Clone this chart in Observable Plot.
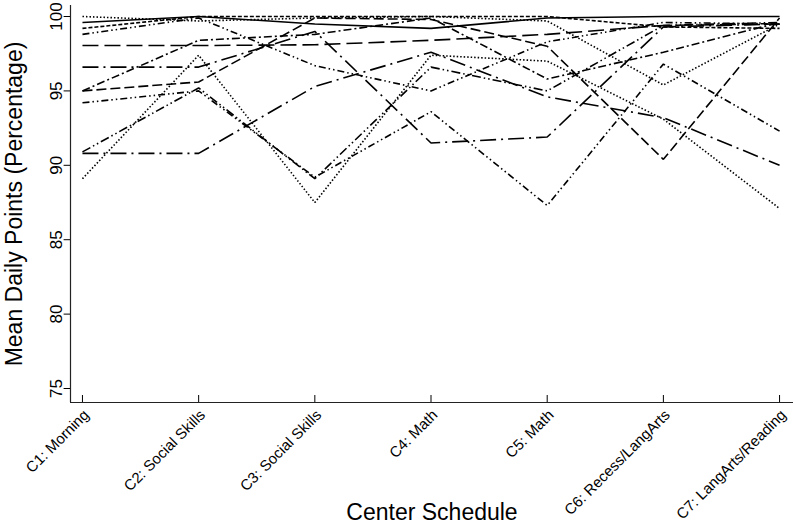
<!DOCTYPE html>
<html>
<head>
<meta charset="utf-8">
<script src="https://cdn.jsdelivr.net/npm/d3@7"></script>
<script src="https://cdn.jsdelivr.net/npm/@observablehq/plot@0.6"></script>
<style>
  html, body { margin: 0; padding: 0; background: #fff; }
  #chart svg { display: block; }
</style>
</head>
<body>
<div id="chart"></div>
<script>
// ---- Data ----
const categories = ["C1: Morning", "C2: Social Skills", "C3: Social Skills", "C4: Math", "C5: Math", "C6: Recess/LangArts", "C7: LangArts/Reading"];
const yTicks = [75, 80, 85, 90, 95, 100];
const xTitle = "Center Schedule";
const yTitle = "Mean Daily Points (Percentage)";

const sSolid        = [99.6, 100, 99.5, 99.2, 99.9, 100, 100];
const sDottedTop    = [100, 99.7, 99.9, 100, 99.7, 95.4, 99.5];
const sShortDash    = [99.2, 100, 100, 100, 100, 99.3, 99.2];
const sDashDotDotA  = [98.8, 99.9, 96.7, 95.0, 98.3, 99.6, 99.5];
const sLongDash     = [98.05, 98.05, 98.1, 98.4, 98.8, 99.4, 99.5];
const sLongDashDotA = [96.6, 96.6, 99.0, 91.5, 91.9, 99.3, 99.5];
const sDashDot      = [95.0, 98.4, 98.8, 99.9, 95.8, 97.6, 99.6];
const sDash         = [95.0, 95.6, 99.9, 99.8, 98.0, 90.4, 99.9];
const sDashDotDotB  = [94.2, 95.0, 89.2, 93.6, 87.3, 96.8, 92.3];
const sDashDotDotC  = [90.9, 95.2, 89.1, 96.6, 95.0, 99.4, 99.6];
const sLongDashDotB = [90.8, 90.8, 95.3, 97.6, 94.6, 93.2, 90.0];
const sDottedLow    = [89.1, 97.4, 87.5, 97.4, 97.0, 93.1, 87.1];

// ---- Styling per series ----
const series = [
  {name: "solid", values: sSolid, dash: null},
  {name: "dottedTop", values: sDottedTop, dash: "1.5,2"},
  {name: "shortDash", values: sShortDash, dash: "4,2"},
  {name: "ddA", values: sDashDotDotA, dash: "7,3,1.5,3,1.5,3"},
  {name: "longDash", values: sLongDash, dash: "16,6"},
  {name: "ldA", values: sLongDashDotA, dash: "16,5,2,5"},
  {name: "dashDot", values: sDashDot, dash: "8,3,2,3"},
  {name: "dash", values: sDash, dash: "10,4"},
  {name: "ddB", values: sDashDotDotB, dash: "7,3,1.5,3,1.5,3"},
  {name: "ddC", values: sDashDotDotC, dash: "9,3,1.5,3,1.5,3"},
  {name: "ldB", values: sLongDashDotB, dash: "16,5,2,5"},
  {name: "dottedLow", values: sDottedLow, dash: "1.5,2"}
];

const rows = [];
series.forEach(s => s.values.forEach((v, i) => rows.push({series: s.name, idx: i + 1, value: v})));
const catRows = categories.map((c, i) => ({idx: i + 1, label: c}));

const xDomain = [0.897, 7.12];
const yDomain = [74.06, 100.74];
const font = "'Liberation Sans', Arial, Helvetica, sans-serif";

const lineMarks = series.map(s =>
  Plot.line(rows.filter(r => r.series === s.name), {
    x: "idx", y: "value", stroke: "black", strokeWidth: 1.6,
    strokeDasharray: s.dash ?? undefined, strokeLinejoin: "miter", strokeLinecap: "butt"
  })
);

const chart = Plot.plot({
  width: 793,
  height: 524,
  marginLeft: 70,
  marginRight: 0,
  marginTop: 5,
  marginBottom: 122,
  style: {fontFamily: font, background: "white", color: "black", overflow: "visible"},
  x: {type: "linear", domain: xDomain, axis: null},
  y: {type: "linear", domain: yDomain, axis: null},
  marks: [
    ...lineMarks,
    // axis lines
    Plot.ruleX([xDomain[0]], {stroke: "#222", strokeWidth: 1.2}),
    Plot.ruleY([yDomain[0]], {stroke: "#222", strokeWidth: 1.2}),
    // y ticks (outward) and labels
    Plot.ruleY(yTicks, {x1: xDomain[0] - 0.055, x2: xDomain[0], stroke: "black", strokeWidth: 1}),
    Plot.text(yTicks, {y: d => d, text: d => String(d), frameAnchor: "left", rotate: -90, dx: -14,
      textAnchor: "middle", lineAnchor: "middle", fontSize: 17, fill: "black"}),
    // x ticks (inward) and labels
    Plot.ruleX(catRows, {x: "idx", y1: yDomain[0], y2: yDomain[0] + 0.47, stroke: "black", strokeWidth: 1}),
    Plot.text(catRows, {x: "idx", text: "label", frameAnchor: "bottom", rotate: -45, dx: 4, dy: 10,
      textAnchor: "end", lineAnchor: "middle", fontSize: 15, fill: "black"}),
    // axis titles
    Plot.text([xTitle], {frameAnchor: "bottom", dy: 110, fontSize: 23, textAnchor: "middle", lineAnchor: "middle", fill: "black"}),
    Plot.text([yTitle], {frameAnchor: "left", rotate: -90, dx: -56, fontSize: 23, textAnchor: "middle", lineAnchor: "middle", fill: "black"})
  ]
});
document.getElementById("chart").appendChild(chart);
</script>
</body>
</html>
